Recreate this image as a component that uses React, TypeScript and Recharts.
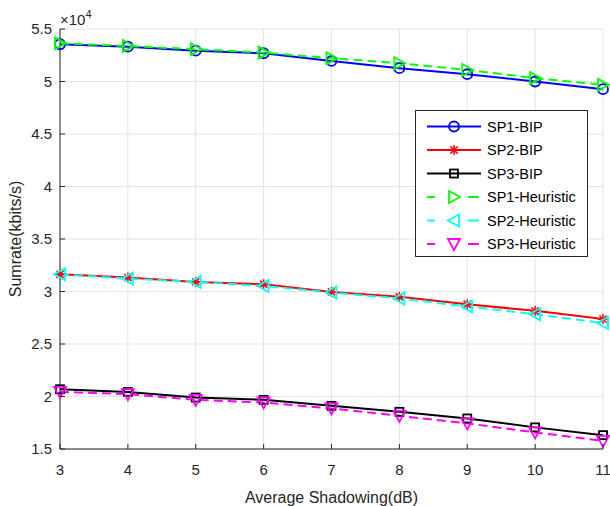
import { LineChart, Line, XAxis, YAxis, CartesianGrid, Legend } from 'recharts';

const shadowing = [3, 4, 5, 6, 7, 8, 9, 10, 11];
const sp1Bip = [53550, 53320, 52940, 52690, 51960, 51270, 50700, 50000, 49270];
const sp2Bip = [31640, 31330, 30910, 30690, 29960, 29490, 28790, 28160, 27370];
const sp3Bip = [20690, 20440, 19900, 19680, 19110, 18540, 17910, 17060, 16320];
const sp1Heu = [53640, 53380, 53070, 52750, 52220, 51740, 51100, 50320, 49680];
const sp2Heu = [31640, 31230, 30910, 30530, 29900, 29340, 28570, 27840, 27000];
const sp3Heu = [20440, 20220, 19680, 19430, 18860, 18160, 17440, 16580, 15780];

const xTicks = [3, 4, 5, 6, 7, 8, 9, 10, 11];
const yTicks = [15000, 20000, 25000, 30000, 35000, 40000, 45000, 50000, 55000];

const FONT = '"Liberation Sans", Arial, Helvetica, sans-serif';
const AXIS = '#262626';

const data = shadowing.map((x, i) => ({
  x,
  sp1Bip: sp1Bip[i],
  sp2Bip: sp2Bip[i],
  sp3Bip: sp3Bip[i],
  sp1Heu: sp1Heu[i],
  sp2Heu: sp2Heu[i],
  sp3Heu: sp3Heu[i],
}));

type Kind = 'circle' | 'star' | 'square' | 'triRight' | 'triLeft' | 'triDown';

const series: { key: string; name: string; color: string; kind: Kind; dashed: boolean }[] = [
  { key: 'sp1Bip', name: 'SP1-BIP', color: '#0000ff', kind: 'circle', dashed: false },
  { key: 'sp2Bip', name: 'SP2-BIP', color: '#ff0000', kind: 'star', dashed: false },
  { key: 'sp3Bip', name: 'SP3-BIP', color: '#000000', kind: 'square', dashed: false },
  { key: 'sp1Heu', name: 'SP1-Heuristic', color: '#00ff00', kind: 'triRight', dashed: true },
  { key: 'sp2Heu', name: 'SP2-Heuristic', color: '#00ffff', kind: 'triLeft', dashed: true },
  { key: 'sp3Heu', name: 'SP3-Heuristic', color: '#ff00ff', kind: 'triDown', dashed: true },
];

function Marker({ kind, cx, cy, color }: { kind: Kind; cx: number; cy: number; color: string }) {
  const common = { fill: 'none', stroke: color, strokeWidth: 1.8 };
  switch (kind) {
    case 'circle':
      return <circle cx={cx} cy={cy} r={5} {...common} />;
    case 'square':
      return <rect x={cx - 4} y={cy - 4} width={8} height={8} {...common} />;
    case 'star':
      return (
        <g {...common} strokeWidth={1.5}>
          <line x1={cx - 5} y1={cy} x2={cx + 5} y2={cy} />
          <line x1={cx} y1={cy - 5} x2={cx} y2={cy + 5} />
          <line x1={cx - 3.6} y1={cy - 3.6} x2={cx + 3.6} y2={cy + 3.6} />
          <line x1={cx - 3.6} y1={cy + 3.6} x2={cx + 3.6} y2={cy - 3.6} />
        </g>
      );
    case 'triRight':
      return <polygon points={`${cx + 6},${cy} ${cx - 5},${cy - 6} ${cx - 5},${cy + 6}`} {...common} />;
    case 'triLeft':
      return <polygon points={`${cx - 6},${cy} ${cx + 5},${cy - 6} ${cx + 5},${cy + 6}`} {...common} />;
    case 'triDown':
      return <polygon points={`${cx - 6},${cy - 5} ${cx + 6},${cy - 5} ${cx},${cy + 6}`} {...common} />;
  }
  return null;
}

function BottomTick({ x, y, payload }: any) {
  return (
    <g>
      <line x1={x} y1={y} x2={x} y2={y - 5} stroke={AXIS} strokeWidth={1} />
      <text x={x} y={y + 26} textAnchor="middle" fill={AXIS} fontSize={15} fontFamily={FONT}>
        {payload.value}
      </text>
    </g>
  );
}

function TopTick({ x, y }: any) {
  return <line x1={x} y1={y} x2={x} y2={y + 5} stroke={AXIS} strokeWidth={1} />;
}

function LeftTick({ x, y, payload }: any) {
  return (
    <g>
      <line x1={x} y1={y} x2={x + 5} y2={y} stroke={AXIS} strokeWidth={1} />
      <text x={x - 8} y={y + 5} textAnchor="end" fill={AXIS} fontSize={15} fontFamily={FONT}>
        {payload.value / 10000}
      </text>
    </g>
  );
}

function RightTick({ x, y }: any) {
  return <line x1={x} y1={y} x2={x - 5} y2={y} stroke={AXIS} strokeWidth={1} />;
}

function YTitle({ viewBox }: any) {
  const { x, y, height, width } = viewBox;
  const cy = y + height / 2;
  return (
    <g>
      <text
        x={x + 15}
        y={cy}
        transform={`rotate(-90 ${x + 15} ${cy})`}
        textAnchor="middle"
        dominantBaseline="central"
        fill={AXIS}
        fontSize={16}
        fontFamily={FONT}
      >
        Sumrate(kbits/s)
      </text>
      <text x={x + width} y={y - 4} fill={AXIS} fontSize={15} fontFamily={FONT}>
        ×10
        <tspan fontSize={11} dy={-7}>4</tspan>
      </text>
    </g>
  );
}

function LegendBox() {
  const rowGap = 23.5;
  return (
    <svg width={173} height={147} style={{ display: 'block', background: '#fff', border: `1px solid ${AXIS}`, boxSizing: 'border-box' }}>
      {series.map((s, i) => {
        const cy = 15.5 + i * rowGap;
        return (
          <g key={s.key}>
            {s.dashed ? (
              <g stroke={s.color} strokeWidth={2}>
                <line x1={11} y1={cy} x2={19} y2={cy} />
                <line x1={52} y1={cy} x2={63} y2={cy} />
              </g>
            ) : (
              <line x1={11} y1={cy} x2={65} y2={cy} stroke={s.color} strokeWidth={2} />
            )}
            <Marker kind={s.kind} cx={38} cy={cy} color={s.color} />
            <text x={71} y={cy + 5} fill="#000" fontSize={14.5} fontFamily={FONT}>
              {s.name}
            </text>
          </g>
        );
      })}
    </svg>
  );
}

export default function App() {
  return (
    <div style={{ position: 'absolute', left: 0, top: 0, width: 610, height: 506, background: '#fff' }}>
      <LineChart width={610} height={506} data={data} margin={{ top: 29, right: 7, bottom: 0, left: 0 }}>
        <CartesianGrid stroke="#e3e3e3" strokeWidth={1} />
        <XAxis
          dataKey="x"
          type="number"
          domain={[3, 11]}
          ticks={xTicks}
          height={57}
          tickSize={0}
          tickMargin={0}
          tickLine={false}
          tick={<BottomTick />}
          axisLine={{ stroke: AXIS }}
          interval={0}
          label={{
            value: 'Average Shadowing(dB)',
            position: 'insideBottom',
            offset: 3,
            fill: AXIS,
            fontSize: 16,
            fontFamily: FONT,
          }}
        />
        <XAxis
          xAxisId="top"
          dataKey="x"
          type="number"
          orientation="top"
          domain={[3, 11]}
          ticks={xTicks}
          height={0}
          tickSize={0}
          tickMargin={0}
          tickLine={false}
          tick={<TopTick />}
          axisLine={{ stroke: AXIS }}
          interval={0}
        />
        <YAxis
          type="number"
          domain={[15000, 55000]}
          ticks={yTicks}
          width={60}
          tickSize={0}
          tickMargin={0}
          tickLine={false}
          tick={<LeftTick />}
          axisLine={{ stroke: AXIS }}
          interval={0}
          label={<YTitle />}
        />
        <YAxis
          yAxisId="right"
          type="number"
          orientation="right"
          domain={[15000, 55000]}
          ticks={yTicks}
          width={0}
          tickSize={0}
          tickMargin={0}
          tickLine={false}
          tick={<RightTick />}
          axisLine={{ stroke: AXIS }}
          interval={0}
        />
        <Legend
          layout="vertical"
          align="center"
          verticalAlign="middle"
          content={<LegendBox />}
          wrapperStyle={{ position: 'absolute', left: 415, top: 110, width: 173, height: 147 }}
        />
        {series.map((s) => (
          <Line
            key={s.key}
            dataKey={s.key}
            name={s.name}
            type="linear"
            stroke={s.color}
            strokeWidth={2}
            strokeDasharray={s.dashed ? '9 5' : undefined}
            isAnimationActive={false}
            activeDot={false}
            dot={(p: any) => <Marker key={`${s.key}-${p.index}`} kind={s.kind} cx={p.cx} cy={p.cy} color={s.color} />}
          />
        ))}
      </LineChart>
    </div>
  );
}
